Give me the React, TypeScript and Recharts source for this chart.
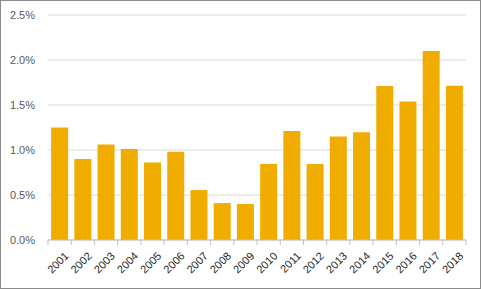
import React from "react";
import { BarChart, Bar, XAxis, YAxis, CartesianGrid } from "recharts";

const years = ["2001","2002","2003","2004","2005","2006","2007","2008","2009","2010","2011","2012","2013","2014","2015","2016","2017","2018"];
const rates = [1.25, 0.9, 1.06, 1.01, 0.86, 0.98, 0.555, 0.41, 0.4, 0.845, 1.21, 0.845, 1.15, 1.197, 1.71, 1.54, 2.1, 1.715];
const yTicks = [0, 0.5, 1, 1.5, 2, 2.5];

const data = years.map((y, i) => ({ year: y, value: rates[i] }));

const FONT = "'Liberation Sans', Arial, sans-serif";

const XTick = (props: any) => {
  const { x, y, payload, index, visibleTicksCount } = props;
  const half = payload && payload.offset ? payload.offset : 11.6;
  const last = index === (visibleTicksCount ?? years.length) - 1;
  return (
    <g>
      <line x1={x - half} x2={x - half} y1={y - 8} y2={y - 3} stroke="#bfbfbf" />
      {last && <line x1={x + half} x2={x + half} y1={y - 8} y2={y - 3} stroke="#bfbfbf" />}
      <text
        x={x + 4}
        y={y + 3}
        textAnchor="end"
        dominantBaseline="hanging"
        transform={`rotate(-45, ${x + 4}, ${y + 3})`}
        fontSize={11}
        fontFamily={FONT}
        fill="#262626"
      >
        {payload.value}
      </text>
    </g>
  );
};

export default function App() {
  return (
    <div
      style={{
        position: "fixed",
        left: 0,
        top: 0,
        width: 481,
        height: 289,
        boxSizing: "border-box",
        border: "1px solid #8c8c8c",
        background: "#fff",
      }}
    >
      <div style={{ position: "absolute", left: -1, top: -1 }}>
        <BarChart
          width={481}
          height={289}
          data={data}
          margin={{ top: 15, right: 15, bottom: 0, left: 0 }}
          barCategoryGap="13.5%"
        >
          <CartesianGrid vertical={false} stroke="#d9d9d9" />
          <XAxis
            dataKey="year"
            interval={0}
            height={49}
            tickLine={false}
            axisLine={{ stroke: "#bfbfbf" }}
            tick={<XTick />}
          />
          <YAxis
            width={48}
            domain={[0, 2.5]}
            ticks={yTicks}
            tickFormatter={(v: number) => v.toFixed(1) + "%"}
            axisLine={false}
            tickLine={false}
            tickMargin={7}
            tick={{ fontSize: 11, fontFamily: FONT, fill: "#595959" }}
          />
          <Bar dataKey="value" fill="#F0AD00" isAnimationActive={false} />
        </BarChart>
      </div>
    </div>
  );
}
